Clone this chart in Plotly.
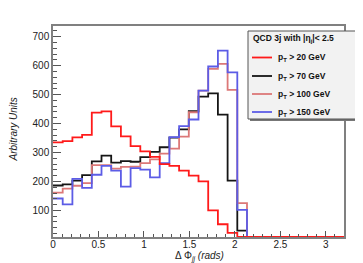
import numpy as np
import plotly.graph_objects as go

# ---- data ----
x_min, x_max, n_bins = 0.0, 3.2, 30
pt20 = [335, 339, 352, 361, 438, 442, 390, 356, 322, 304, 285, 260, 254, 237, 220, 200, 100, 52, 22, 5,
        0, 0, 0, 0, 0, 0, 0, 0, 0, 0]
pt70 = [186, 190, 203, 222, 269, 289, 265, 270, 268, 284, 302, 318, 351, 380, 443, 493, 504, 431, 203, 30,
        0, 0, 0, 0, 0, 0, 0, 0, 0, 0]
pt100 = [161, 175, 185, 194, 256, 256, 244, 250, 251, 263, 276, 296, 313, 355, 439, 514, 589, 606, 516, 125,
         0, 0, 0, 0, 0, 0, 0, 0, 0, 0]
pt150 = [141, 121, 209, 178, 223, 254, 237, 182, 246, 241, 214, 263, 353, 391, 414, 514, 597, 652, 577, 102,
         0, 0, 0, 0, 0, 0, 0, 0, 0, 0]
labels = ["p<sub>T</sub> > 20 GeV", "p<sub>T</sub> > 70 GeV", "p<sub>T</sub> > 100 GeV", "p<sub>T</sub> > 150 GeV"]
colors = ["#ff1a1a", "#151515", "#dc7878", "#5c5ce6"]
header = "QCD 3j with |η<sub>j</sub>|< 2.5"
y_range = [8, 737]

edges = np.linspace(x_min, x_max, n_bins + 1)

fig = go.Figure()
series = [pt70, pt100, pt150, pt20]
cols = [colors[1], colors[2], colors[3], colors[0]]
for vals, c in zip(series, cols):
    v = np.maximum(np.array(vals, dtype=float), y_range[0])
    yy = np.append(v, v[-1])
    fig.add_trace(go.Scatter(x=edges, y=yy, mode="lines", line=dict(color=c, width=1.8, shape="hv"),
                             showlegend=False, hoverinfo="skip"))

# page has an 8px body margin; plot area in page pixels: x 53..344, y 26..237
OFF = 8
PL, PR, PT, PB = 53, 344, 26, 237
W, H = 363 - OFF, 263 - OFF
L, T = PL - OFF, PT - OFF
R, B = W - (PR - OFF), H - (PB - OFF)
pw, ph = PR - PL, PB - PT


def xp(px):
    return (px - PL) / pw


def yp(py):
    return (PB - py) / ph


font = "Liberation Sans, Arial, Helvetica, sans-serif"

fig.update_layout(
    width=W, height=H, margin=dict(l=L, r=R, t=T, b=B),
    paper_bgcolor="white", plot_bgcolor="white",
    font=dict(family=font, size=10, color="#222"),
    xaxis=dict(range=[x_min, x_max], showgrid=False, zeroline=False, tick0=0, dtick=0.5,
               ticks="inside", ticklen=6, tickcolor="#555", tickwidth=1, ticklabelstandoff=-3,
               minor=dict(dtick=0.1, ticks="inside", ticklen=3, tickcolor="#555"),
               showline=True, linecolor="#808080", linewidth=1.5, mirror=True,
               tickfont=dict(size=10, color="#222")),
    yaxis=dict(range=y_range, showgrid=False, zeroline=False, tick0=0, dtick=100,
               ticks="inside", ticklen=8, tickcolor="#555", tickwidth=1,
               minor=dict(dtick=20, ticks="inside", ticklen=4, tickcolor="#555"),
               showline=True, linecolor="#808080", linewidth=1.5, mirror=True,
               tickfont=dict(size=10, color="#222")),
)

# axis titles
fig.add_annotation(text="<i>Arbitrary Units</i>", xref="paper", yref="paper", x=xp(12.5), y=yp(130),
                   showarrow=False, textangle=-90, font=dict(size=10, color="#222", family=font),
                   xanchor="center", yanchor="middle")
fig.add_annotation(text="Δ Φ<sub><i>jj</i></sub> <i>(rads)</i>", xref="paper", yref="paper",
                   x=xp(199), y=yp(256.5), showarrow=False, font=dict(size=10, color="#222", family=font),
                   xanchor="center", yanchor="middle")

# legend box
fig.add_shape(type="rect", xref="paper", yref="paper", x0=xp(250), x1=xp(362), y0=yp(121), y1=yp(33),
              line=dict(width=0), fillcolor="#777", layer="above")
fig.add_shape(type="rect", xref="paper", yref="paper", x0=xp(248), x1=xp(360), y0=yp(119), y1=yp(31),
              line=dict(color="#555", width=1), fillcolor="#f2f2f2", layer="above")
fig.add_annotation(text="<b>" + header + "</b>", xref="paper", yref="paper", x=xp(251), y=yp(39),
                   showarrow=False, xanchor="left", yanchor="middle",
                   font=dict(size=8.5, color="#111", family=font))
entry_y = [57.5, 76, 94, 112]
for lab, c, ey in zip(labels, colors, entry_y):
    fig.add_shape(type="line", xref="paper", yref="paper", x0=xp(252), x1=xp(272), y0=yp(ey), y1=yp(ey),
                  line=dict(color=c, width=1.8), layer="above")
    fig.add_annotation(text="<b>" + lab + "</b>", xref="paper", yref="paper", x=xp(276), y=yp(ey),
                       showarrow=False, xanchor="left", yanchor="middle",
                       font=dict(size=8.5, color="#111", family=font))

fig.write_html("out.html")
